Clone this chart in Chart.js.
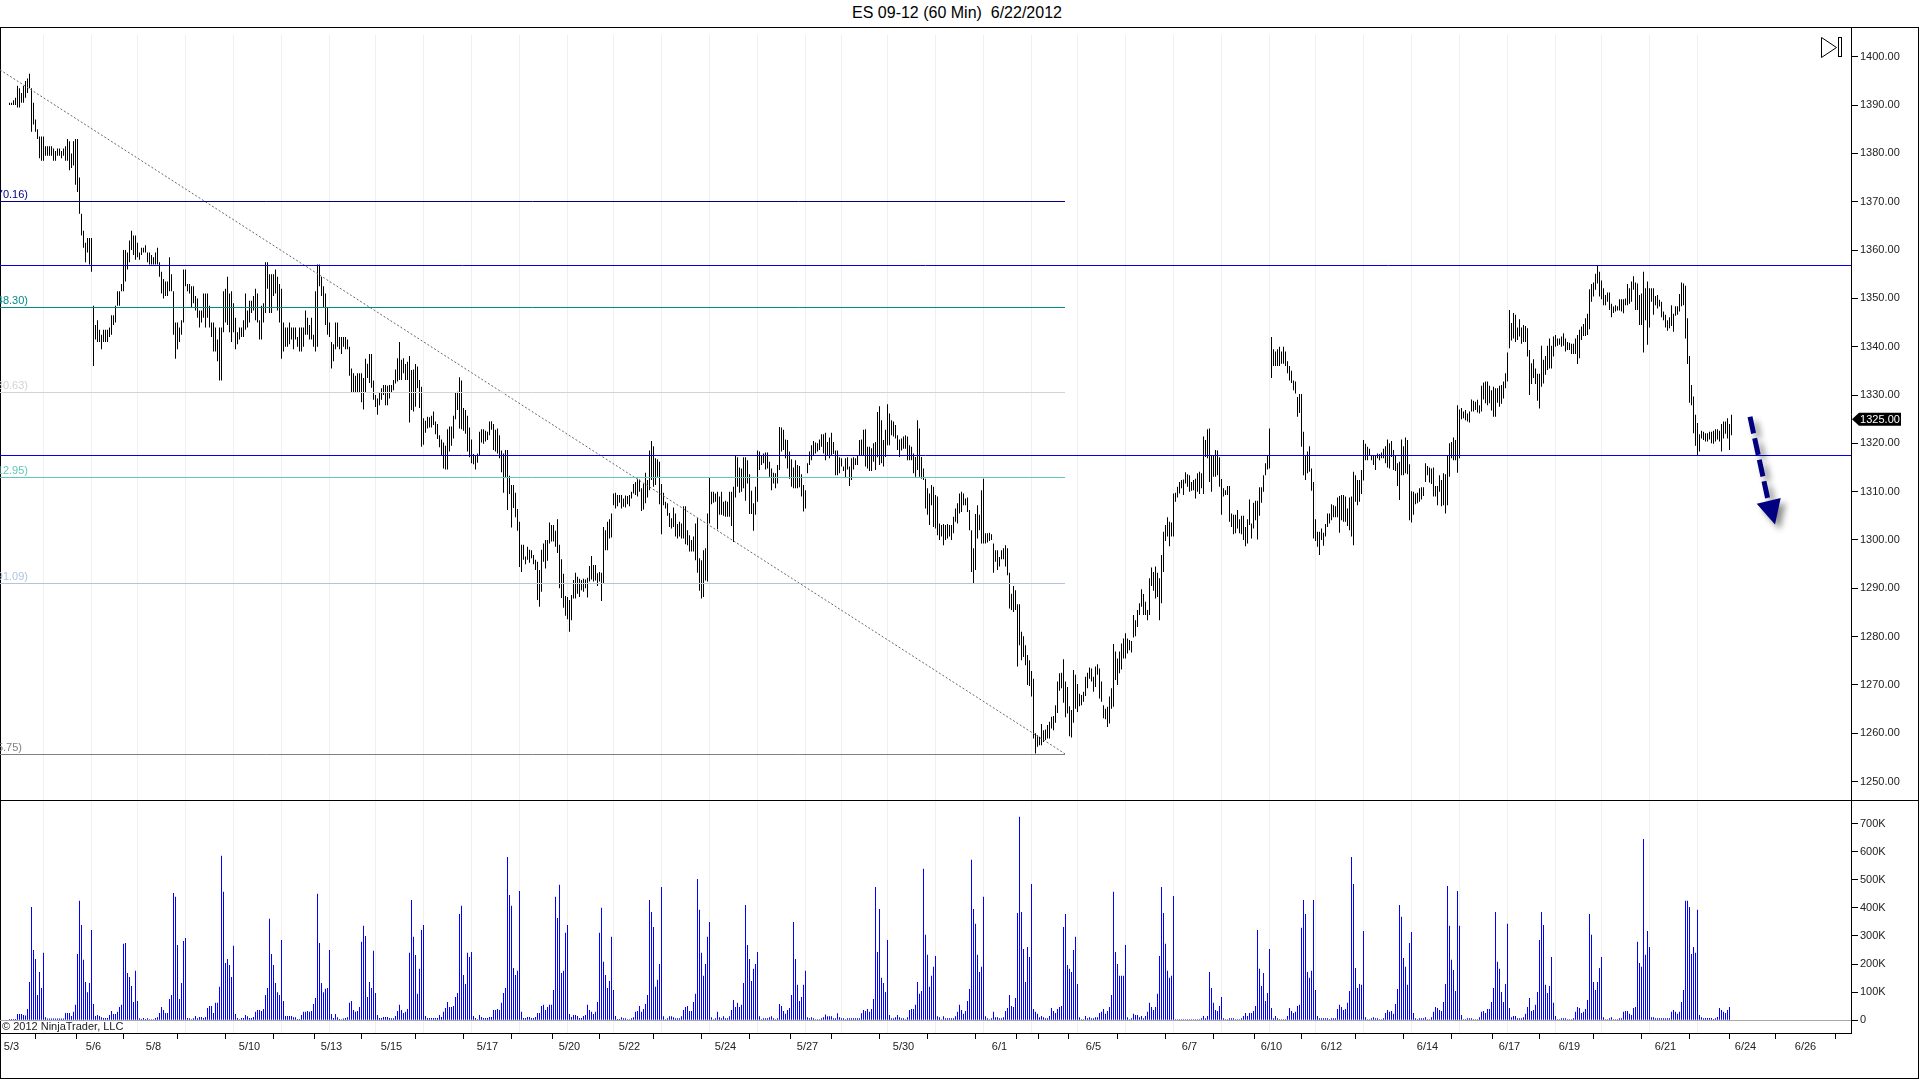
<!DOCTYPE html>
<html>
<head>
<meta charset="utf-8">
<title>ES 09-12 (60 Min) 6/22/2012</title>
<script src="https://cdn.jsdelivr.net/npm/chart.js@4"></script>
<style>
  html, body { margin: 0; padding: 0; background: #fff; overflow: hidden; }
  #title { position: absolute; left: 0; top: 4px; width: 1914px; text-align: center; white-space: pre;
           font: 16px "Liberation Sans", Arial, sans-serif; color: #000; }
  #frame { position: absolute; left: 0; top: 27px; width: 1919px; height: 1052px; box-sizing: border-box; border: 1px solid #000; }
  #split { position: absolute; left: 0; top: 800px; width: 1919px; height: 1px; background: #000; }
  canvas { position: absolute; left: 0; }
</style>
</head>
<body>
<div id="title">ES 09-12 (60 Min)  6/22/2012</div>
<div id="frame"></div>
<div id="split"></div>
<canvas id="priceChart" width="1920" height="772" style="top:28px"></canvas>
<canvas id="volumeChart" width="1920" height="278" style="top:801px"></canvas>
<script>
// one row per session, hourly bars
const highs = [
1390.5,1390.5,1391,1391.5,1394,1393.5,1392.5,1394,1395,1395.5,1396.5,1393.5,1390.5,1387,1385,1383.5,1383.5,1383.5,
1381.5,1381.5,1381.5,1381.5,1381,1380.5,1381,1381,1380.5,1381,1381.5,1383,1382.5,1380,1382.5,1383,1383,1375,1367.5,1364,1361.5,1362.5,1362.5,1362.5,
1348.5,1344.5,1345.5,1343.5,1342.5,1343.5,1343.5,1343.5,1344,1346.5,1346.5,1348.5,1351.5,1351.5,1353,1360,1360,1359.5,1362,1364,1363,1363,1361.5,
1359.5,1360.5,1360.5,1361,1359.5,1359.5,1359,1358.5,1359.5,1360.5,1357.5,1355.5,1354,1353.5,1353.5,1358.5,1355,1351.5,1345,1345,1344,1345.5,1356,1356,
1353,1353,1352.5,1352.5,1350.5,1350,1347.5,1347.5,1351,1351,1351,1348.5,1345,1345,1344,1341.5,1344,1344,1351.5,1352,1354.5,1351,1351.5,1349,
1346,1343,1344,1344,1345.5,1351,1347.5,1349.5,1349.5,1350.5,1352,1351,1345.5,1348.5,1349,1357.5,1357.5,1355,1355,1355,1356,1354.5,1353,1352,
1345,1344,1344,1345,1344,1344,1344,1342,1344,1344,1344,1347.5,1346,1344.5,1346,1342.5,1351.5,1357,1357,1354.5,1352.5,1351,1348,1345,
1341,1340.5,1345,1345,1342,1342,1342,1342,1341.5,1340,1335.5,1334.5,1334,1334.5,1334.5,1334.5,1333.5,1337.5,1336.5,1338.5,1338.5,1333,1330,
1329.3,1330.4,1331.4,1332.1,1332.1,1331.9,1332.1,1332.1,1333.1,1335.3,1337.6,1341,1337.3,1337.6,1336.4,1336.9,1338.1,1335.2,1335.3,1336.4,1335.9,1333.1,1331.7,1325.2,
1324.7,1325.5,1325.4,1325.7,1326.6,1324.5,1324,1321.7,1320.8,1320.2,1319.5,1322.9,1323.5,1323.5,1325.7,1330.5,1330.7,1333.7,1333,1327.3,1326.9,1325.7,1323.3,1320.8,
1317.8,1317.6,1317.9,1322.4,1322.9,1322.9,1322.6,1322.4,1324.5,1324.6,1324,1322.8,1323.1,1321.7,1318.5,1317.9,1318.6,1318.6,1313.3,1311.4,1311.4,1309.8,1306.4,1303.8,
1299,1299,1296.6,1298.6,1298,1297.9,1296.9,1295.9,1295.5,1293.8,1298,1299.3,1300,1300,1303.6,1303.1,1303.1,1301.9,1304.3,1299,1296,1293,1288.4,1288.2,
1287.6,1288.6,1291.7,1293.2,1292.4,1292,1291.7,1292,1291.8,1292.2,1294.6,1296.7,1294.8,1294.8,1293.1,1293.4,1293.2,1302.7,1302,1303.8,1304.3,1305.5,1309.6,
1309.8,1309.3,1309.3,1309.3,1308.6,1309.2,1309.1,1309.3,1310,1311.6,1312,1312.7,1312.5,1310.7,1311.7,1313.9,1312.4,1318.5,1320.5,1319.4,1316.9,1316.7,1316.2,1311.6,
1309.8,1307.9,1307.6,1305.6,1304.5,1306.7,1305.5,1303.3,1303.8,1303.4,1307,1307,1302,1301,1300,1300.7,1303.4,1304.5,1296.2,1295.8,1297.9,1298.3,1305.5,1313,
1310,1310,1309.6,1310,1309,1310,1307.9,1308.1,1307.9,1310,1310,1311,1317.6,1317.1,1315,1314.8,1317.1,1317.1,1316.5,1313.6,1310.2,1307.6,1311,1318.5,
1318.3,1317.6,1317.9,1318.1,1318.1,1316.2,1314.8,1313.9,1313.8,1315.5,1323.4,1323.3,1322.8,1320.8,1320.7,1318.3,1316.7,1315,1316.5,1315.5,1315.3,1313.6,1311.4,1310.3,
1315.9,1318.3,1319.6,1320.5,1320.2,1320,1320.8,1321.9,1321.9,1322.2,1320.3,1321.2,1322.2,1320.3,1318.5,1318.5,1317.1,1316.9,
1315.2,1316.9,1317.1,1315.2,1316.9,1317.1,1316.9,1317.4,1320.7,1320.8,1322.8,1322.9,1319.3,1319.3,1319,1320,1320.3,1326.5,1327.7,1324.8,1320.7,1322.8,1328.1,
1326.2,1324.8,1324.5,1323.8,1321.7,1320.8,1321,1321.4,1321.7,1321.4,1319.6,1319.3,1317.9,1317.2,1324.8,1323.1,1317.2,1314.8,1312.7,1310.7,1309.6,1311.4,1311,1309.3,
1309,1303.4,1303.1,1303.3,1303.1,1303.3,1303.1,1303.1,1304.8,1306.5,1307.6,1309.6,1310,1309.6,1308.6,1308.8,1306.2,1302,1298.3,1305.4,1307.2,1305.2,1310.3,1312.7,
1301.4,1301.4,1301.5,1301.2,1299.3,1297.9,1297.9,1296.5,1297.9,1298.3,1298.9,1298.3,1293.2,1288.9,1290.5,1289.6,1286.7,1286.7,1281,1280.1,1278.2,1276.2,1275.1,1272.9,
1271.3,1260,1259.6,1259.3,1261.9,1260.6,1260.8,1261.7,1262.4,1263.4,1263.6,1265.8,1270.7,1272.4,1272.5,1275.3,1270.7,1269.6,1265.6,1264.8,1273.1,1272.1,1270.2,
1268.2,1267.9,1268.6,1271.7,1272.5,1273.6,1273.4,1271.7,1273.8,1274.3,1273.4,1270.7,1265.8,1265.1,1265.5,1267.6,1269.3,1278.5,1276.9,1275.5,1276.9,1278.6,1279.6,1280.7,
1279.6,1279.3,1279.1,1284.5,1283.4,1285.5,1286.9,1289.8,1288.8,1287.2,1285.5,1292.1,1294.3,1293.4,1294.5,1293.2,1292.1,1296.9,1301.7,1303.1,1304.7,1303.8,1303.6,1309.6,
1309.8,1311,1312,1312.4,1312.5,1314,1313.6,1313.4,1312,1312.4,1312.7,1313.8,1314.1,1313.8,1321.4,1320.7,1322.9,1323.1,1317.6,1317.6,1318.6,1318.5,1317.1,1312.6,
1310.7,1310.3,1311.2,1311.2,1305.5,1305.2,1305.2,1306.2,1304.3,1305,1305,1302.7,1304.3,1308.4,1303.4,1307.7,1308.1,1308.1,1310.9,1310.9,1313.4,1315.9,1317.4,1323.1,
1342,1339.5,1339,1339.5,1340,1339,1340,1339,1337,1336,1335,1333,1332.8,1329.6,1330.2,1330.2,1322.4,1317.6,1318.3,1319.4,1314.8,1312,1304.3,
1301.7,1301.7,1302.4,1301.5,1303.3,1305.5,1305.5,1307.4,1307.2,1307,1308.8,1309.1,1309.3,1309.3,1309,1306.5,1308.8,1309,1314.1,1313.4,1312.4,1312.4,1314.5,1320.7,
1319.9,1319.3,1318.9,1317.6,1317.6,1317.6,1317.9,1317.8,1318.1,1318.9,1319.4,1320.8,1320,1320.5,1318.6,1317.6,1315.9,1316.2,1320.8,1319.4,1321.2,1320.7,1315.7,1310.1,
1310,1309.6,1309.8,1310.7,1310.9,1310.9,1315.9,1315.3,1315,1314.8,1315,1311.2,1311.2,1313.4,1312.4,1313.8,1313.6,1317.5,1320,1320.3,1321.2,1320.7,1327.9,1327,
1327.3,1326.6,1326.9,1326.2,1326.6,1329.1,1328.8,1328.6,1329,1327.9,1331.9,1332.6,1332.8,1332.8,1331.9,1331,1331.7,1331.4,1331.4,1331.9,1332.1,1332.8,1334.5,1338.8,
1347.6,1344.9,1347,1346.6,1344,1345.7,1344,1344.5,1344.3,1343.8,1339.3,1336.6,1337.4,1335.5,1334.4,1334.4,1340.2,1337.3,1338.1,1340.2,1341.7,1340.2,1342.1,1342.4,
1341.7,1341.7,1342.1,1342.8,1341.7,1341,1340.8,1340.6,1340.6,1341.7,1342.4,1343.5,1344.2,1344.7,1345.9,1346.8,1351.9,1353,1353.3,1355.1,1356.9,1355.5,1353.7,
1352.1,1350.7,1351.2,1351.2,1348.9,1348.3,1348.6,1348.4,1349.8,1349.8,1349.8,1350,1353,1352.1,1353.5,1354.6,1353.3,1353.1,1350.7,1351,1355.5,1352.1,1353.5,1352.1,
1352.1,1352.1,1350.5,1350.7,1349.7,1349.3,1347.3,1346.6,1345.5,1346.1,1348.6,1346.8,1348.4,1348.4,1350.9,1353.3,1353.1,1352.6,1345.9,1338.1,1332.1,1329.7,1325.9,1324.2,
1321.9,1322.6,1322.4,1322.1,1322.1,1322.4,1322.4,1322.6,1322.9,1322.9,1322.6,1324,1324.5,1324.5,1325.2,1324,1325.9
];
const lows = [
1390,1390,1390,1390,1389.5,1389.5,1390.5,1390.5,1391.5,1392.5,1393.5,1384.5,1386,1384.5,1383,1379,1378.5,1378.5,
1379.5,1379.5,1379.5,1379.5,1378.5,1378.5,1379.5,1379.5,1379,1379.5,1378.5,1378.5,1376.5,1377,1377.5,1373.5,1372,1367.5,1363,1360.5,1357.5,1359.5,1357,1355.5,
1336,1341.5,1341,1341,1339.5,1341,1341,1341,1342,1342.5,1344.5,1345,1348.5,1348.5,1351.5,1351.5,1353.5,1356,1357.5,1360,1359,1358,1358.5,
1358,1359,1359.5,1359.5,1357.5,1357,1357,1357,1357,1357,1354.5,1351,1350,1350.5,1350.5,1351.5,1351.5,1342.5,1337.5,1339.5,1341,1342.5,1345,1352.5,
1351.5,1351,1348,1349,1347.5,1346,1344,1345,1346,1344,1346,1344,1342,1339,1339,1337,1333,1333,1343,1345,1344.5,1343,1341,1343,
1339.5,1340.5,1341.5,1342,1342,1343.5,1344,1345,1347,1347.5,1345.5,1345,1341.5,1341.5,1345,1347,1352,1347,1347,1350.5,1351,1347.5,1345,1337.5,
1339,1340,1340,1340.5,1341.5,1339.5,1341.5,1340,1339,1339,1340,1342.5,1342.5,1341.5,1341.5,1340,1339,1340,1352.5,1350.5,1348,1344.5,1342.5,1342,
1335.5,1337,1339.5,1340,1339.5,1338.5,1340,1339.5,1339.5,1334,1330.5,1330.5,1330.5,1330.5,1330.5,1328.5,1327,1330.5,1333.5,1332.5,1331.5,1329,1327.5,
1325.9,1327.9,1329,1330,1327.9,1327.9,1329.3,1330.4,1331,1332.4,1332.8,1333.1,1333.1,1334.5,1333.1,1333.1,1324.3,1326.9,1326.6,1327.6,1331.4,1327.3,1319.3,1319.7,
1322.2,1323.1,1323.3,1323.3,1323.8,1321.9,1320.9,1319.2,1317.6,1314.8,1314.6,1314.6,1318.3,1319.5,1321,1325,1326.9,1323.1,1322.9,1322.6,1322,1318.3,1317.1,1315.9,
1315.7,1314.6,1316,1317.6,1320.2,1319.9,1320.4,1320.7,1321.7,1322.8,1318.6,1318.3,1317.9,1316.9,1314,1309.8,1313,1306.2,1309.5,1302.6,1306.6,1304.7,1301.9,1294.4,
1293.4,1295.9,1295,1295.9,1295.3,1296.2,1295,1293.8,1287.6,1286.2,1289.3,1295.5,1294.1,1295.7,1299.3,1299.7,1299.7,1298.6,1297.3,1290,1288,1286,1284.3,1283.6,
1281,1283.4,1287.9,1287.9,1288.9,1288.2,1289.6,1289.3,1290,1288.1,1291.4,1291.8,1291.4,1291.6,1290.5,1291.4,1287.4,1291,1297.9,1297.9,1300.3,1300.5,1307.2,
1306.5,1307,1307.7,1306.5,1306.9,1306.7,1307.4,1307,1308.6,1309.6,1309.3,1309,1310,1306,1306.3,1307.6,1308.8,1310.3,1312.4,1311,1311.4,1313.1,1307.4,1301.2,
1307.2,1306.5,1305,1302.7,1302.4,1302.7,1300.7,1300.3,1300.7,1300.3,1300.3,1299.1,1298.9,1297.6,1297.6,1297.6,1295.8,1293.2,1289.5,1287.9,1288.2,1291.6,1291.4,1303.4,
1307.4,1307.7,1307.9,1302.2,1305.2,1305.2,1305,1304.8,1304.8,1304.8,1302.9,1299.6,1308.8,1311,1309.8,1310,1310.7,1308.1,1311.7,1305.4,1305.4,1301.9,1305.2,1307.9,
1314.5,1315.5,1315.9,1314.6,1314.8,1313.1,1310.3,1311.7,1310.7,1311.7,1314.5,1318.3,1318.6,1316.9,1314.8,1312.7,1311,1310.7,1310.7,1310.7,1310.9,1309,1305.9,1306.5,
1313.8,1315.5,1316.5,1317.6,1317.9,1318.3,1318.6,1319.3,1317.9,1316.5,1317.6,1316.9,1317.6,1317.8,1313.4,1313.4,1313.8,1315.2,
1314.3,1313,1314.6,1311.2,1312.4,1314.6,1315.5,1315.5,1317.4,1317.6,1317.6,1315.2,1314.8,1314.3,1314.3,1316.2,1314.5,1317.1,1315.5,1315.9,1315.2,1317.2,1319.6,
1319.6,1321.7,1321.4,1321,1318.6,1317.2,1318.5,1318.9,1318.9,1316.5,1316.5,1316.5,1313.8,1313.1,1314.5,1313.1,1312.7,1312.4,1306.5,1305.2,1303.1,1307.2,1302.7,1302.4,
1301,1300,1300.7,1298.9,1300,1300.3,1300.7,1300,1301.4,1303.8,1303.4,1305.5,1305.8,1307.2,1307.2,1305.8,1302,1293.4,1291,1293.8,1300.3,1302,1299.3,1299.3,
1299.3,1299.5,1299.8,1300,1293.2,1295.5,1293.8,1294.5,1296,1296,1294.5,1292.7,1285.8,1285.5,1285.1,1285.5,1273.8,1278.2,1275.1,1275.8,1274.1,1270,1269.8,1267.6,
1258.9,1255.8,1257.2,1257.5,1257.5,1258.2,1258.6,1258.9,1258.9,1261,1260.6,1262.2,1264.2,1268.8,1269.3,1266.3,1263.3,1264.1,1259.4,1259.1,1262.2,1265.1,1264.4,
1265.6,1265.8,1266.5,1267.7,1269.3,1271.3,1270.7,1268.6,1269.6,1272.1,1267.2,1266.5,1263.1,1262.9,1261.3,1262,1265.1,1265.5,1271,1270,1272.4,1273.2,1275.5,1275.5,
1276.5,1277.2,1276.7,1279.8,1280.1,1282,1284.5,1286.2,1284.5,1284.5,1283.4,1284.5,1290.5,1289.5,1287.9,1288.2,1283.4,1286.9,1293.4,1299.8,1300.7,1298.7,1300.7,1300.7,
1307.9,1308.8,1309.6,1310.7,1309.3,1311.7,1311,1310,1310.2,1310.3,1308.6,1310,1309.5,1310.7,1309.5,1317.2,1316.9,1312,1310,1313.1,1313.1,1313.4,1311,1305.2,
1309,1309.3,1309.3,1303.8,1302.7,1301.2,1301.4,1302.4,1301.4,1301.2,1300,1298.7,1299.3,1303.1,1300.3,1302.4,1304.1,1300.1,1305,1307.7,1310,1313.4,1314.6,1314.8,
1333.5,1336,1336,1336,1336,1336.5,1336.5,1336,1334.5,1333,1332.5,1331,1330.3,1325.5,1326.3,1319.3,1313.4,1312.4,1313.8,1314.1,1310.2,1300.3,1299.8,
1298.6,1296.9,1300,1298.8,1300.7,1302.7,1303.4,1304.1,1304.7,1304.7,1304.7,1301.5,1304.1,1303.8,1303.8,1302.9,1302,1300.7,1298.9,1307.9,1307.2,1307.9,1309.5,1312.3,
1316.5,1316.5,1317.6,1316.5,1315.5,1314.5,1316.9,1316.5,1316.9,1316.9,1315.9,1315,1314.8,1317.2,1314.5,1314.3,1311.2,1308.3,1313.4,1313.4,1313.8,1313.6,1304.1,1303.6,
1305.2,1307.4,1307.6,1307.9,1308.4,1309.1,1312,1313.4,1311.9,1311.6,1309,1309,1307.2,1310,1307,1307.2,1305.5,1307.2,1313.1,1316.9,1316.5,1316.5,1313.9,1316.9,
1325,1325.2,1324.8,1324.5,1324.3,1326.6,1326.6,1326.9,1326.4,1326.2,1326.6,1329.1,1328.3,1327.9,1328.3,1326.8,1325.5,1325.5,1328.4,1327.6,1328.2,1329.3,1331.4,1332.8,
1339.7,1341.3,1341.7,1341,1341.4,1342.1,1340.6,1341,1341,1338,1330,1332.3,1333.5,1332.3,1328.8,1327.2,1331.7,1332.4,1334.2,1335.2,1335.5,1335.5,1338,1340,
1340.2,1340.4,1340,1340.2,1339,1339.3,1339.3,1338.5,1338.5,1338.5,1336.4,1337.6,1341.4,1342.2,1342.2,1342.4,1343.6,1349.3,1350.4,1351.8,1353.1,1350.4,1349.8,
1348.6,1348.6,1349.3,1347.6,1346.1,1347,1347.3,1347.5,1347.5,1347.3,1346.9,1348.6,1348.6,1348.9,1349.3,1351.8,1347.6,1347.6,1344.5,1344.5,1338.8,1345.5,1340.4,1344,
1349.3,1346.6,1348.6,1347.9,1348.3,1346.1,1345.5,1344,1343.3,1343.8,1344.3,1343.1,1346.4,1346.6,1347.3,1348.4,1348.6,1341.7,1336.4,1328.4,1327.9,1322.1,1319.5,1317.6,
1318.3,1321,1320.7,1320.4,1320.4,1320.8,1320,1319.9,1320.4,1320.8,1320.4,1318.3,1321,1322,1321,1318.6,1321.7
];
// thousands of contracts
const volumes = [
5,5,5,5,22,22,22,19,17,40,136,403,250,218,90,172,115,240,
11,6,6,6,6,6,6,6,6,6,26,26,26,15,30,55,236,425,339,215,136,100,133,321,
58,15,19,15,11,8,8,8,19,33,22,22,30,47,55,272,275,168,154,122,65,176,69,
7,5,8,5,7,4,4,4,8,11,26,47,37,26,26,76,90,453,439,268,76,133,282,293,
8,7,4,7,15,7,12,12,8,12,44,51,51,26,62,62,119,585,457,204,218,197,154,265,
22,8,4,8,8,19,14,8,8,12,30,37,37,33,40,90,115,361,236,197,133,100,90,286,
69,15,15,15,15,11,11,5,5,19,30,30,33,30,33,58,79,450,275,133,100,112,115,250,
22,8,22,11,5,4,6,8,11,62,69,37,30,33,47,279,336,300,83,136,115,247,97,
19,8,8,12,12,12,8,7,7,15,33,55,37,26,30,40,240,428,297,232,94,183,321,339,
15,8,8,8,8,8,8,19,12,30,44,65,47,47,51,83,97,378,407,161,129,240,225,243,
15,8,4,19,12,8,8,8,12,12,37,37,40,37,62,97,115,581,446,407,186,161,176,460,
30,8,8,12,12,8,8,12,26,26,51,55,37,47,55,55,108,439,364,482,168,176,311,339,
22,12,19,19,15,8,8,15,19,55,37,30,22,30,65,311,400,208,161,115,140,297,108,
15,5,5,11,7,7,4,4,7,11,30,33,51,30,40,58,90,428,385,332,119,144,200,474,
14,4,7,14,14,11,7,7,7,14,37,47,51,33,33,65,94,503,393,240,158,200,297,350,
11,4,7,30,11,7,14,7,7,14,37,72,47,62,47,55,133,410,268,218,140,183,200,243,
14,4,7,7,7,11,14,7,4,7,58,51,33,23,37,44,90,350,218,126,69,83,126,176,
11,7,11,7,4,4,4,7,11,21,14,14,14,7,7,25,11,7,
7,4,7,7,7,7,7,7,7,25,37,33,40,30,40,76,474,243,396,151,133,101,286,
19,7,7,11,19,11,7,7,4,11,37,40,40,55,136,94,104,539,304,233,119,158,190,229,
14,11,4,14,7,7,7,7,7,14,30,55,37,23,33,69,111,571,396,343,233,172,190,439,
14,7,4,7,30,11,11,7,7,11,33,44,90,51,47,79,382,724,385,254,136,261,225,485,
40,30,23,11,15,11,7,7,15,44,33,26,40,47,51,332,378,197,183,172,250,297,129,
11,4,4,15,7,11,7,7,11,11,26,30,40,23,33,47,90,457,243,200,158,158,158,268,
11,4,7,23,19,19,11,15,7,15,30,62,47,37,47,94,229,474,382,272,176,151,158,442,
4,4,4,4,4,4,4,4,4,4,4,4,4,7,15,7,15,172,115,62,37,33,51,83,
7,4,4,7,7,7,4,4,4,7,15,26,15,26,26,33,51,321,183,122,168,69,97,254,
44,7,15,7,4,4,4,4,15,44,33,26,30,51,55,329,428,378,172,151,176,428,108,
15,7,7,7,7,7,4,7,7,7,40,55,47,37,40,62,104,581,485,186,115,129,126,318,
11,4,4,7,11,7,7,4,4,7,26,37,30,33,23,58,111,410,368,222,190,126,275,314,
26,7,4,7,7,7,11,4,4,11,30,47,44,37,33,65,129,478,336,215,179,104,460,336,
19,4,4,7,7,7,4,4,4,11,30,33,26,40,40,65,115,385,208,183,101,65,129,343,
44,11,15,15,7,7,7,11,23,47,79,33,37,55,101,286,385,339,126,97,122,225,62,15,
4,4,7,7,7,4,4,4,7,30,47,44,26,30,40,72,378,304,136,108,136,186,225,
11,4,4,7,11,4,4,4,7,7,30,33,33,23,19,44,47,279,204,190,645,233,318,261,
11,11,7,7,7,7,7,7,7,7,30,37,30,23,30,65,108,425,425,403,236,261,240,393,
19,11,7,8,8,8,8,5,7,12,44,37,30,26,37,47
];
// close of each session, where the faint vertical lines sit
const gridBars = [17,41,64,88,112,136,160,183,207,231,255,279,302,326,350,374,398,416,439,463,487,511,534,558,582,606,630,653,677,701,725,749,773,796,820,844];
const tickBars = [1,25,42,72,96,120,144,161,191,215,239,263,280,310,334,358,382,399,423,447,471,495,512,517,542,566,590,614,631,661,685,709,733,750,780,804,828,852,868,898];
const tickNames = ['5/3','','5/6','5/8','','5/10','','5/13','5/15','','5/17','','5/20','5/22','','5/24','','5/27','','5/30','','6/1','','','6/5','','6/7','','6/10','6/12','','6/14','','6/17','6/19','','6/21','','6/24','6/26'];
const priceTicks = [1250,1260,1270,1280,1290,1300,1310,1320,1330,1340,1350,1360,1370,1380,1390,1400];
const volumeTicks = [0,100,200,300,400,500,600,700];
const fibLevels = [1370.16,1348.30,1330.63,1312.95,1291.09,1255.75];
const fibColors = ['#000080','#008b8b','#d3d3d3','#5fc9b9','#b0c4de','#808080'];
const fibEndBar = 527.75;
const blueLevels = [1357,1317.5];
const trendBars = [-4.75,527.75];
const trendPrices = [1397.3,1255.75];
const lastPrice = 1325;
const arrowShaftBars = [870.25,879.25];
const arrowShaftPrices = [1325.5,1308.3];
const arrowHeadBars = [873.6,885.6,882.75];
const arrowHeadPrices = [1307.5,1308.7,1303.2];

const FONT = '"Liberation Sans", Arial, sans-serif';
const xMin = -4.75, xMax = 920.75;

function gridPlugin() {
    return {
        id: 'dayGrid',
        beforeDatasetsDraw(chart) {
            const { ctx, chartArea, scales } = chart;
            ctx.save();
            ctx.strokeStyle = '#f0f0f0';
            ctx.lineWidth = 1;
            gridBars.forEach(b => {
                const x = Math.floor(scales.x.getPixelForValue(b)) + 0.5;
                ctx.beginPath();
                ctx.moveTo(x, chart.canvas.id === 'priceChart' ? chartArea.top + 7 : chartArea.top);
                ctx.lineTo(x, chartArea.bottom);
                ctx.stroke();
            });
            ctx.restore();
        }
    };
}

const priceOverlay = {
    id: 'priceOverlay',
    afterDatasetsDraw(chart) {
        const { ctx, chartArea, scales } = chart;
        const hLine = (v, x2, color) => {
            const y = Math.round(scales.y.getPixelForValue(v)) + 0.5;
            ctx.strokeStyle = color;
            ctx.beginPath();
            ctx.moveTo(chartArea.left, y);
            ctx.lineTo(x2, y);
            ctx.stroke();
            return y;
        };
        ctx.save();
        ctx.lineWidth = 1;
        ctx.font = '11px ' + FONT;
        ctx.textAlign = 'right';
        ctx.textBaseline = 'middle';
        fibLevels.forEach((v, i) => {
            const y = hLine(v, scales.x.getPixelForValue(fibEndBar), fibColors[i]);
            ctx.fillStyle = fibColors[i];
            const right = i === fibLevels.length - 1 ? 22 : 28;
            ctx.fillText(v.toFixed(2) + ')', right, y - 7);
        });
        blueLevels.forEach(v => hLine(v, chartArea.right, '#0000e6'));
        ctx.restore();
    },
    afterDraw(chart) {
        const { ctx, scales, chartArea } = chart;
        const px = b => scales.x.getPixelForValue(b);
        const py = p => scales.y.getPixelForValue(p);
        ctx.save();
        // hand drawn arrow on the chart
        ctx.shadowColor = 'rgba(0,0,0,0.45)';
        ctx.shadowBlur = 6;
        ctx.shadowOffsetX = 5;
        ctx.shadowOffsetY = 5;
        ctx.strokeStyle = '#000080';
        ctx.lineWidth = 5;
        ctx.setLineDash([17, 5]);
        ctx.beginPath();
        ctx.moveTo(px(arrowShaftBars[0]), py(arrowShaftPrices[0]));
        ctx.lineTo(px(arrowShaftBars[1]), py(arrowShaftPrices[1]));
        ctx.stroke();
        ctx.setLineDash([]);
        ctx.fillStyle = '#000080';
        ctx.beginPath();
        arrowHeadBars.forEach((b, i) => {
            if (i === 0) ctx.moveTo(px(b), py(arrowHeadPrices[i]));
            else ctx.lineTo(px(b), py(arrowHeadPrices[i]));
        });
        ctx.closePath();
        ctx.fill();
        ctx.restore();

        // last price marker on the axis
        const y = py(lastPrice);
        const ax = chartArea.right + 1;
        ctx.save();
        ctx.fillStyle = '#000';
        ctx.beginPath();
        ctx.moveTo(ax, y);
        ctx.lineTo(ax + 7, y - 6.5);
        ctx.lineTo(ax + 49, y - 6.5);
        ctx.lineTo(ax + 49, y + 6.5);
        ctx.lineTo(ax + 7, y + 6.5);
        ctx.closePath();
        ctx.fill();
        ctx.fillStyle = '#fff';
        ctx.font = '11px ' + FONT;
        ctx.textAlign = 'center';
        ctx.textBaseline = 'middle';
        ctx.fillText(lastPrice.toFixed(2), ax + 28, y + 0.5);

        // go to last bar button
        ctx.strokeStyle = '#000';
        ctx.lineWidth = 1;
        ctx.beginPath();
        ctx.moveTo(1821.5, 9.5);
        ctx.lineTo(1836.5, 19.5);
        ctx.lineTo(1821.5, 29.5);
        ctx.closePath();
        ctx.stroke();
        ctx.strokeRect(1838.5, 9.5, 3, 19);
        ctx.restore();
    }
};

const volumeOverlay = {
    id: 'volumeOverlay',
    beforeDatasetsDraw(chart) {
        const { ctx, chartArea, scales } = chart;
        const y = Math.round(scales.y.getPixelForValue(0)) + 0.5;
        ctx.save();
        ctx.strokeStyle = '#a9a9a9';
        ctx.lineWidth = 1;
        ctx.beginPath();
        ctx.moveTo(chartArea.left, y);
        ctx.lineTo(chartArea.right, y);
        ctx.stroke();
        ctx.restore();
    },
    afterDatasetsDraw(chart) {
        const { ctx } = chart;
        ctx.save();
        ctx.fillStyle = '#222';
        ctx.font = '11px ' + FONT;
        ctx.textBaseline = 'middle';
        ctx.fillText('© 2012 NinjaTrader, LLC', 2, 226);
        ctx.restore();
    }
};

function yAxis(min, max, values, label) {
    return {
        position: 'right',
        min: min,
        max: max,
        bounds: 'data',
        afterFit: axis => { axis.width = 69; axis.paddingTop = 0; axis.paddingBottom = 0; },
        afterBuildTicks: axis => { axis.ticks = values.map(v => ({ value: v })); },
        border: { color: '#000', width: 1 },
        grid: { drawOnChartArea: false, tickLength: 7, tickColor: '#000' },
        ticks: { callback: label, color: '#222', padding: 2, font: { family: FONT, size: 11 } }
    };
}

new Chart(document.getElementById('priceChart'), {
    type: 'bar',
    data: {
        datasets: [{
            type: 'line',
            data: trendBars.map((b, i) => ({ x: b, y: trendPrices[i] })),
            borderColor: '#666',
            borderWidth: 1,
            borderDash: [2, 2],
            pointRadius: 0,
            order: 0
        }, {
            data: highs.map((h, i) => ({ x: i, y: [lows[i], h] })),
            backgroundColor: '#000',
            barThickness: 1,
            inflateAmount: 0,
            order: 1
        }]
    },
    options: {
        responsive: false,
        animation: false,
        devicePixelRatio: 1,
        layout: { padding: 0 },
        plugins: { legend: { display: false }, tooltip: { enabled: false } },
        scales: {
            x: { type: 'linear', display: false, offset: false, bounds: 'data', min: xMin, max: xMax },
            y: yAxis(1246.19, 1405.96, priceTicks, v => v.toFixed(2))
        }
    },
    plugins: [gridPlugin(), priceOverlay]
});

new Chart(document.getElementById('volumeChart'), {
    type: 'bar',
    data: {
        datasets: [{
            data: volumes.map((v, i) => ({ x: i, y: v })),
            backgroundColor: '#0000ff',
            barThickness: 1,
            inflateAmount: 0
        }]
    },
    options: {
        responsive: false,
        animation: false,
        devicePixelRatio: 1,
        layout: { padding: 0 },
        plugins: { legend: { display: false }, tooltip: { enabled: false } },
        scales: {
            x: {
                type: 'linear',
                offset: false,
                bounds: 'data',
                min: xMin,
                max: xMax,
                afterFit: axis => { axis.height = 46; axis.paddingLeft = 0; axis.paddingRight = 0; },
                afterBuildTicks: axis => { axis.ticks = tickBars.map(v => ({ value: v })); },
                border: { color: '#000', width: 1 },
                grid: { drawOnChartArea: false, tickLength: 6, tickColor: '#000' },
                ticks: {
                    autoSkip: false,
                    maxRotation: 0,
                    padding: 1,
                    color: '#222',
                    font: { family: FONT, size: 11 },
                    callback: (v, i) => tickNames[i]
                }
            },
            y: yAxis(-45.2, 780, volumeTicks, v => v === 0 ? '0' : v + 'K')
        }
    },
    plugins: [gridPlugin(), volumeOverlay]
});
</script>
</body>
</html>
